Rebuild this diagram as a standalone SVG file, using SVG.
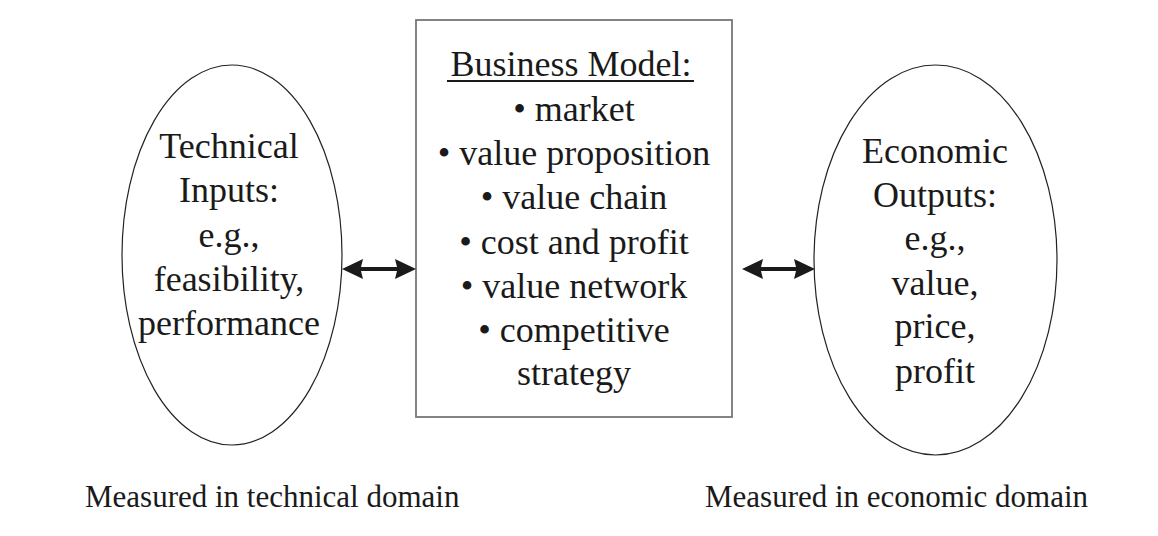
<svg xmlns="http://www.w3.org/2000/svg" width="1158" height="536" viewBox="0 0 1158 536">
<style>
text{font-family:"Liberation Serif","Times New Roman",serif;fill:#1a1a1a;text-anchor:middle}
.big{font-size:36px}
.small{font-size:31px;text-anchor:start}
.ell{fill:none;stroke:#222;stroke-width:1.2}
.box{fill:none;stroke:#777;stroke-width:1.8}
.conn{fill:#1a1a1a;stroke:none}
</style>
<rect width="1158" height="536" fill="#fff"/>
<g id="technical-inputs">
<ellipse class="ell" cx="232" cy="255" rx="110" ry="190"/>
<text class="big" x="229" y="158">Technical</text>
<text class="big" x="229" y="202">Inputs:</text>
<text class="big" x="229" y="247">e.g.,</text>
<text class="big" x="229" y="291">feasibility,</text>
<text class="big" x="229" y="335">performance</text>
</g>
<g id="business-model">
<rect class="box" x="416" y="20" width="316" height="397"/>
<text class="big" x="571" y="76">Business Model:</text>
<line x1="447" y1="81" x2="694" y2="81" stroke="#1a1a1a" stroke-width="1.8"/>
<text class="big" x="574" y="121">• market</text>
<text class="big" x="574" y="165">• value proposition</text>
<text class="big" x="574" y="209">• value chain</text>
<text class="big" x="574" y="254">• cost and profit</text>
<text class="big" x="574" y="298">• value network</text>
<text class="big" x="574" y="342">• competitive</text>
<text class="big" x="574" y="385">strategy</text>
</g>
<g id="economic-outputs">
<ellipse class="ell" cx="935.5" cy="260" rx="121.5" ry="195"/>
<text class="big" x="935" y="163">Economic</text>
<text class="big" x="935" y="207">Outputs:</text>
<text class="big" x="935" y="250">e.g.,</text>
<text class="big" x="935" y="295">value,</text>
<text class="big" x="935" y="338">price,</text>
<text class="big" x="935" y="383">profit</text>
</g>
<g id="connectors">
<path class="conn" d="M342,269 L363,259 L361,267 L397,267 L395,259 L416,269 L395,279 L397,271 L361,271 L363,279 Z"/>
<path class="conn" d="M742,269 L763,259 L761,267 L796,267 L794,259 L815,269 L794,279 L796,271 L761,271 L763,279 Z"/>
</g>
<g id="labels">
<text class="small" x="85" y="507">Measured in technical domain</text>
<text class="small" x="705" y="507">Measured in economic domain</text>
</g>
</svg>
